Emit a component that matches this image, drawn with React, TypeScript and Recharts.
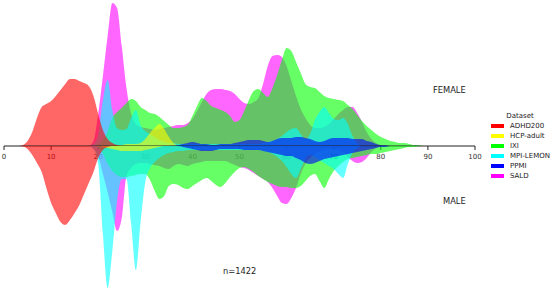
import React from 'react';
import { AreaChart, Area, XAxis, YAxis, Legend } from 'recharts';

const ages = Array.from({ length: 91 }, (_, i) => i);
const ageTicks = [0, 10, 20, 30, 40, 50, 60, 70, 80, 90, 100];

const datasets = ['ADHD200', 'HCP-adult', 'IXI', 'MPI-LEMON', 'PPMI', 'SALD'];
const colors = ['#ff0000', '#ffff00', '#00ff00', '#00ffff', '#0000ff', '#ff00ff'];
// painting order of the layers (SALD at the back)
const drawOrder = [5, 2, 3, 4, 1, 0];

// first age of each list below
const femaleStarts = [3, 20, 19, 18, 35, 18];
const maleStarts = [3, 20, 19, 18, 37, 18];

const adhdFemale = [0, 1, 5, 14, 28, 39, 42, 45, 50, 56, 62, 67, 67, 65, 63, 60, 50, 32, 16, 7, 3, 1, 0];
const adhdMale = [0, 0.5, 3, 9, 17, 26, 42, 57, 67, 76, 79, 74, 67, 59, 48, 37, 26, 12, 4, 1, 0];

const hcpFemale = [0, 0, 0, 1, 1, 1, 2, 2, 2, 3, 7, 13, 18, 22, 17, 9, 3, 0];
const hcpMale = [0, 1, 2, 3, 4, 5, 5, 5, 5, 5, 4, 3, 2, 1, 0];

const ixiFemale = [
  0, 2, 6, 15, 28, 34, 38, 43, 47, 45, 39, 36, 33, 32, 29, 25, 21, 18, 18, 19, 21, 30, 40, 48, 45, 40,
  38, 36, 34, 30, 24, 26, 35, 46, 55, 57, 53, 49, 58, 71, 86, 98, 95, 84, 73, 62, 59, 58, 54, 50, 48,
  47, 46, 45, 41, 37, 31, 25, 20, 16, 12, 9, 7, 5, 4, 3, 3, 2, 1, 1, 0,
];
const ixiMale = [
  0, 2, 8, 18, 25, 29, 31, 31, 30, 29, 28, 28, 34, 45, 53, 50, 40, 38, 39, 42, 43, 40, 37, 34, 32, 35,
  39, 41, 37, 31, 26, 22, 21, 23, 26, 30, 33, 36, 38, 40, 41, 41, 42, 42, 40, 35, 30, 28, 35, 42, 33,
  25, 20, 16, 13, 12, 11, 10, 9, 8, 8, 7, 6, 5, 4, 3, 2, 1, 1, 0,
];

const mpiFemale = [
  0, 2, 12, 46, 66, 36, 18, 16, 17, 28, 36, 21, 15, 12, 9, 6, 4, 3, 3, 2, 2, 2, 2, 2, 2, 2, 2, 2, 2,
  2, 2, 2, 2, 2, 2, 2, 2, 3, 4, 5, 7, 10, 14, 17, 18, 12, 7, 12, 26, 34, 39, 33, 27, 26, 28, 22, 10, 3, 0,
];
const mpiMale = [
  0, 3, 18, 88, 142, 105, 55, 33, 33, 78, 124, 76, 36, 22, 16, 12, 9, 7, 6, 5, 5, 4, 4, 4, 4, 4, 4, 4,
  4, 4, 4, 4, 4, 4, 4, 4, 4, 5, 6, 8, 11, 15, 21, 28, 32, 23, 13, 9, 11, 14, 17, 20, 23, 28, 32, 18, 7, 2, 0,
];

const ppmiFemale = [
  0, 1, 1, 2, 3, 4, 3, 2, 2, 1, 1, 2, 2, 2, 3, 4, 5, 6, 6, 6, 5, 4, 5, 7, 8, 8, 8, 9, 9, 8, 7, 5, 4, 5,
  7, 8, 8, 8, 8, 7, 7, 7, 5, 4, 2, 1, 1, 0,
];
const ppmiMale = [
  0, 1, 2, 3, 4, 5, 5, 5, 4, 3, 3, 3, 3, 3, 4, 4, 4, 4, 5, 6, 7, 8, 9, 10, 10, 12, 14, 17, 18, 17, 15,
  13, 12, 11, 10, 9, 8, 7, 6, 5, 4, 3, 2, 1, 1, 0,
];

const saldFemale = [
  0, 5, 32, 70, 110, 143, 138, 100, 58, 32, 22, 19, 18, 17, 16, 17, 18, 19, 20, 21, 21, 23, 27, 35, 44,
  52, 56, 57, 57, 56, 55, 52, 47, 43, 42, 44, 48, 62, 80, 90, 91, 89, 80, 65, 50, 37, 28, 21, 18, 18,
  19, 22, 27, 32, 36, 39, 39, 33, 24, 14, 7, 3, 1, 0,
];
const saldMale = [
  0, 3, 10, 28, 46, 66, 85, 72, 30, 22, 18, 17, 17, 18, 19, 20, 22, 23, 20, 18, 19, 20, 18, 17, 16, 15,
  15, 15, 15, 15, 17, 19, 21, 22, 24, 27, 30, 33, 36, 42, 50, 57, 58, 52, 42, 28, 18, 12, 8, 5, 4, 3,
  3, 4, 6, 11, 15, 17, 16, 12, 6, 2, 0,
];

const femaleSeries = [adhdFemale, hcpFemale, ixiFemale, mpiFemale, ppmiFemale, saldFemale];
const maleSeries = [adhdMale, hcpMale, ixiMale, mpiMale, ppmiMale, saldMale];

const buildRows = (series: number[][], starts: number[]) =>
  ages.map((age) => {
    const row: Record<string, number> = { age };
    datasets.forEach((name, i) => {
      const v = series[i][age - starts[i]];
      row[name] = v === undefined ? 0 : v;
    });
    return row;
  });

const femaleRows = buildRows(femaleSeries, femaleStarts);
const maleRows = buildRows(maleSeries, maleStarts);

const font = "'DejaVu Sans', sans-serif";

const renderLegend = () => (
  <div style={{ fontFamily: font, fontSize: 7, color: '#222', lineHeight: '10px' }}>
    <div style={{ textAlign: 'center', width: 58 }}>Dataset</div>
    {datasets.map((name, i) => (
      <div key={name} style={{ display: 'flex', alignItems: 'center', height: 10 }}>
        <span style={{ display: 'inline-block', width: 13, height: 4, background: colors[i], marginRight: 6 }} />
        <span>{name}</span>
      </div>
    ))}
  </div>
);

const labelStyle: React.CSSProperties = {
  position: 'absolute',
  fontFamily: font,
  fontSize: 8.3,
  color: '#222',
  lineHeight: '10px',
  whiteSpace: 'nowrap',
};

const layers = () =>
  drawOrder.map((i) => (
    <Area
      key={datasets[i]}
      dataKey={datasets[i]}
      type="monotone"
      stroke="none"
      fill={colors[i]}
      fillOpacity={0.6}
      isAnimationActive={false}
    />
  ));

const App: React.FC = () => {
  return (
    <div style={{ position: 'absolute', left: 0, top: 0, width: 550, height: 292, background: '#fff' }}>
      <div style={{ position: 'absolute', left: 0, top: 0 }}>
        <AreaChart width={550} height={170} data={femaleRows} margin={{ top: 0, right: 75, bottom: 0, left: 4 }}>
          <XAxis
            dataKey="age"
            type="number"
            domain={[0, 100]}
            ticks={ageTicks}
            interval={0}
            height={24}
            tickSize={4}
            tickMargin={4}
            tick={{ fontSize: 7, fill: '#333', fontFamily: font }}
            axisLine={{ stroke: '#222' }}
            tickLine={{ stroke: '#222' }}
          />
          <YAxis hide domain={[0, 146]} />
          {layers()}
          <Legend
            layout="horizontal"
            verticalAlign="middle"
            align="center"
            content={renderLegend}
            wrapperStyle={{ left: 491, top: 111, width: 59, height: 70 }}
          />
        </AreaChart>
      </div>
      <div style={{ position: 'absolute', left: 0, top: 146 }}>
        <AreaChart width={550} height={146} data={maleRows} margin={{ top: 0, right: 75, bottom: 0, left: 4 }}>
          <XAxis dataKey="age" type="number" domain={[0, 100]} hide />
          <YAxis hide reversed domain={[0, 146]} />
          {layers()}
        </AreaChart>
      </div>
      <div style={{ ...labelStyle, left: 433, top: 85 }}>FEMALE</div>
      <div style={{ ...labelStyle, left: 443, top: 196 }}>MALE</div>
      <div style={{ ...labelStyle, left: 223, top: 266 }}>n=1422</div>
    </div>
  );
};

export default App;
